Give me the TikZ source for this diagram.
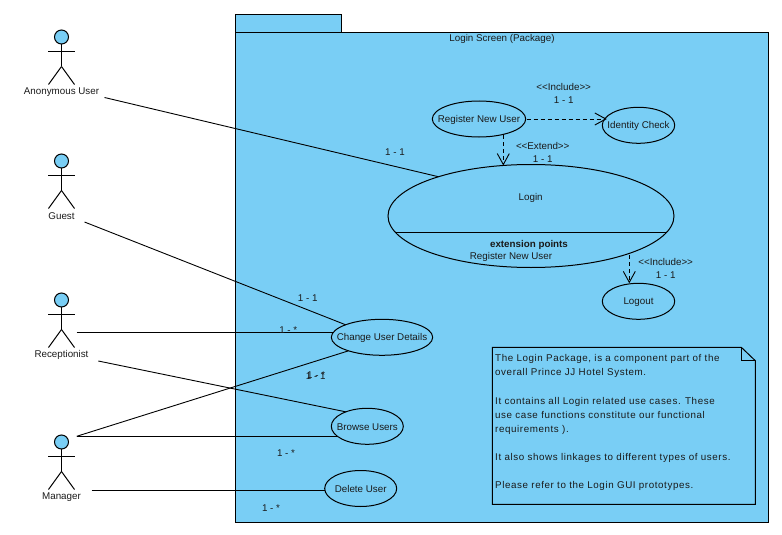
\documentclass[tikz,border=0pt]{standalone}
\usepackage{fontspec}
\setmainfont{Liberation Sans}
\newfontfamily\notefont[LetterSpace=6]{Liberation Sans}
\usetikzlibrary{arrows.meta,shapes.geometric}
\definecolor{pkgblue}{HTML}{79CEF5}
\definecolor{inkc}{HTML}{1A1A1A}
\tikzset{
  shapeline/.style={draw=black,line width=1pt},
  filled/.style={shapeline,fill=pkgblue},
  lbl/.style={inner sep=0pt,text=inkc,yshift=-0.7pt,font=\fontsize{9.8}{11}\selectfont},
  usecase/.style={filled,ellipse,inner sep=0pt,outer sep=0pt},
  uctext/.style={label={[lbl]center:#1}},
  assoc/.style={draw=black,line width=.9pt},
  dep/.style={draw=black,line width=.9pt,dash pattern=on 4pt off 3pt,-{Straight Barb[length=11pt,width=12pt,line width=.9pt]}},
}
\newcommand{\actorfig}[4]{%
  \node[filled,circle,inner sep=0pt,outer sep=0pt,minimum size=14pt] (#1head) at (61.5,#2) {};
  \draw[shapeline] (#1head.south) -- ++(0,22.5) coordinate (#1hip);
  \draw[shapeline] ([xshift=-13.5pt,yshift=-7.5pt]#1head.south) -- ++(27,0);
  \draw[shapeline] (#1hip) -- ++(-13,18);
  \draw[shapeline] (#1hip) -- ++(13,18);
  \node[lbl] (#1name) at (61.5,#3) {#4};
}
\begin{document}
\begin{tikzpicture}[x=1pt,y=-1pt]
\useasboundingbox (0,0) rectangle (782,535);
% package
\node[filled,inner sep=0pt,outer sep=0pt,minimum width=106pt,minimum height=18pt] (pkgtab) at (288.5,23.5) {};
\node[filled,inner sep=0pt,outer sep=0pt,minimum width=533pt,minimum height=490pt] (pkg) at (502,277.5) {};
\node[lbl] (pkgtitle) at (502,38.5) {Login Screen (Package)};
% actors
\actorfig{anon}{37}{91.5}{Anonymous User}
\actorfig{guest}{161}{215.5}{Guest}
\actorfig{recep}{300}{354}{Receptionist}
\actorfig{mgr}{442}{496.5}{Manager}
% use cases
\node[usecase,minimum width=286pt,minimum height=103pt] (login) at (531,216) {};
\node[lbl] (logintxt) at (530.7,197.7) {Login};
\node[lbl,font=\fontsize{9.8}{11}\selectfont\bfseries] (extpts) at (529,244) {extension points};
\node[lbl] (extreg) at (511,256.5) {Register New User};
\draw[shapeline] ([yshift=-16.5pt,xshift=-136pt]login.center) -- ([yshift=-16.5pt,xshift=136pt]login.center);
\node[usecase,uctext={Register New User},minimum width=93.4pt,minimum height=36pt] (reg) at (479,119) {};
\node[usecase,uctext={Identity Check},minimum width=72.4pt,minimum height=36pt] (idc) at (638.5,125.3) {};
\node[usecase,uctext={Logout},minimum width=72.4pt,minimum height=36pt] (logout) at (638.5,301.3) {};
\node[usecase,uctext={Change User Details},minimum width=101.4pt,minimum height=36pt] (chg) at (382,337.3) {};
\node[usecase,uctext={Browse Users},minimum width=72pt,minimum height=36pt] (brw) at (367.3,426.3) {};
\node[usecase,uctext={Delete User},minimum width=72pt,minimum height=36pt] (del) at (360.7,488.5) {};
% free actor ends
\coordinate (anonEnd) at (104.5,97.5);
\coordinate (guestEnd) at (84.5,222);
\coordinate (recepA) at (76.7,332.3);
\coordinate (recepB) at (98.3,361);
\coordinate (mgrA) at (76.7,436.3);
\coordinate (mgrB) at (91.7,490.3);
\coordinate (regOut) at ([xshift=24.3pt,yshift=-16pt]reg.center);
\coordinate (loginOut) at ([xshift=98.3pt,yshift=-39pt]login.center);
% associations
\draw[assoc] (anonEnd) -- (login.157.25);
\draw[assoc] (guestEnd) -- (chg.161.6);
\draw[assoc] (recepA) -- (recepA -| chg.174.2);
\draw[assoc] (recepB) -- (brw.146.8);
\draw[assoc] (mgrA) -- (chg.202.6);
\draw[assoc] (mgrA) -- (mgrA -| brw.198.1);
\draw[assoc] (mgrB) -- (mgrB -| del.182.9);
% dependencies
\draw[dep,shorten <=1pt,shorten >=-2pt] (reg.0) -- (reg.0 -| idc.169.5);
\draw[dep] (regOut) -- ([yshift=-1pt]regOut |- login.north);
\draw[dep] (loginOut) -- (loginOut |- logout.north);
% labels
\node[lbl] (l1) at (395,151) {1 - 1};
\node[lbl] (l2) at (307.7,297.3) {1 - 1};
\node[lbl] (l3) at (288.3,329) {1 - *};
\node[lbl] (l4a) at (315.7,375.2) {1 - 1};
\node[lbl] (l4b) at (316.2,374.6) {1 - *};
\node[lbl] (l5) at (286,452.5) {1 - *};
\node[lbl] (l6) at (271,507.5) {1 - *};
\node[lbl] (i1) at (563.7,86.7) {<{}<Include>{}>};
\node[lbl] (i1n) at (563.7,99.5) {1 - 1};
\node[lbl] (e1) at (542.7,145.7) {<{}<Extend>{}>};
\node[lbl] (e1n) at (542.7,158.7) {1 - 1};
\node[lbl] (i2) at (665.7,261.7) {<{}<Include>{}>};
\node[lbl] (i2n) at (665.7,274.5) {1 - 1};
% note
\coordinate (noteTL) at (492.3,347.3);
\coordinate (noteBR) at (755.3,504.3);
\coordinate (foldA) at (741.3,347.3);
\coordinate (foldB) at (755.3,360.7);
\coordinate (foldC) at (741.3,360.7);
\draw[filled] (noteTL) -- (foldA) -- (foldB) -- (noteBR) -- (noteTL |- noteBR) -- cycle;
\draw[shapeline] (foldA) -- (foldC) -- (foldB);
\node[lbl,anchor=north west,align=left,font=\fontsize{9.8}{14.1}\selectfont\notefont] (notetxt) at (495,353.7) {The Login Package, is a component part of the\\overall Prince JJ Hotel System.\\[14.1pt]It contains all Login related use cases. These\\use case functions constitute our functional\\requirements ).\\[14.1pt]It also shows linkages to different types of users.\\[14.1pt]Please refer to the Login GUI prototypes.};
\end{tikzpicture}
\end{document}
